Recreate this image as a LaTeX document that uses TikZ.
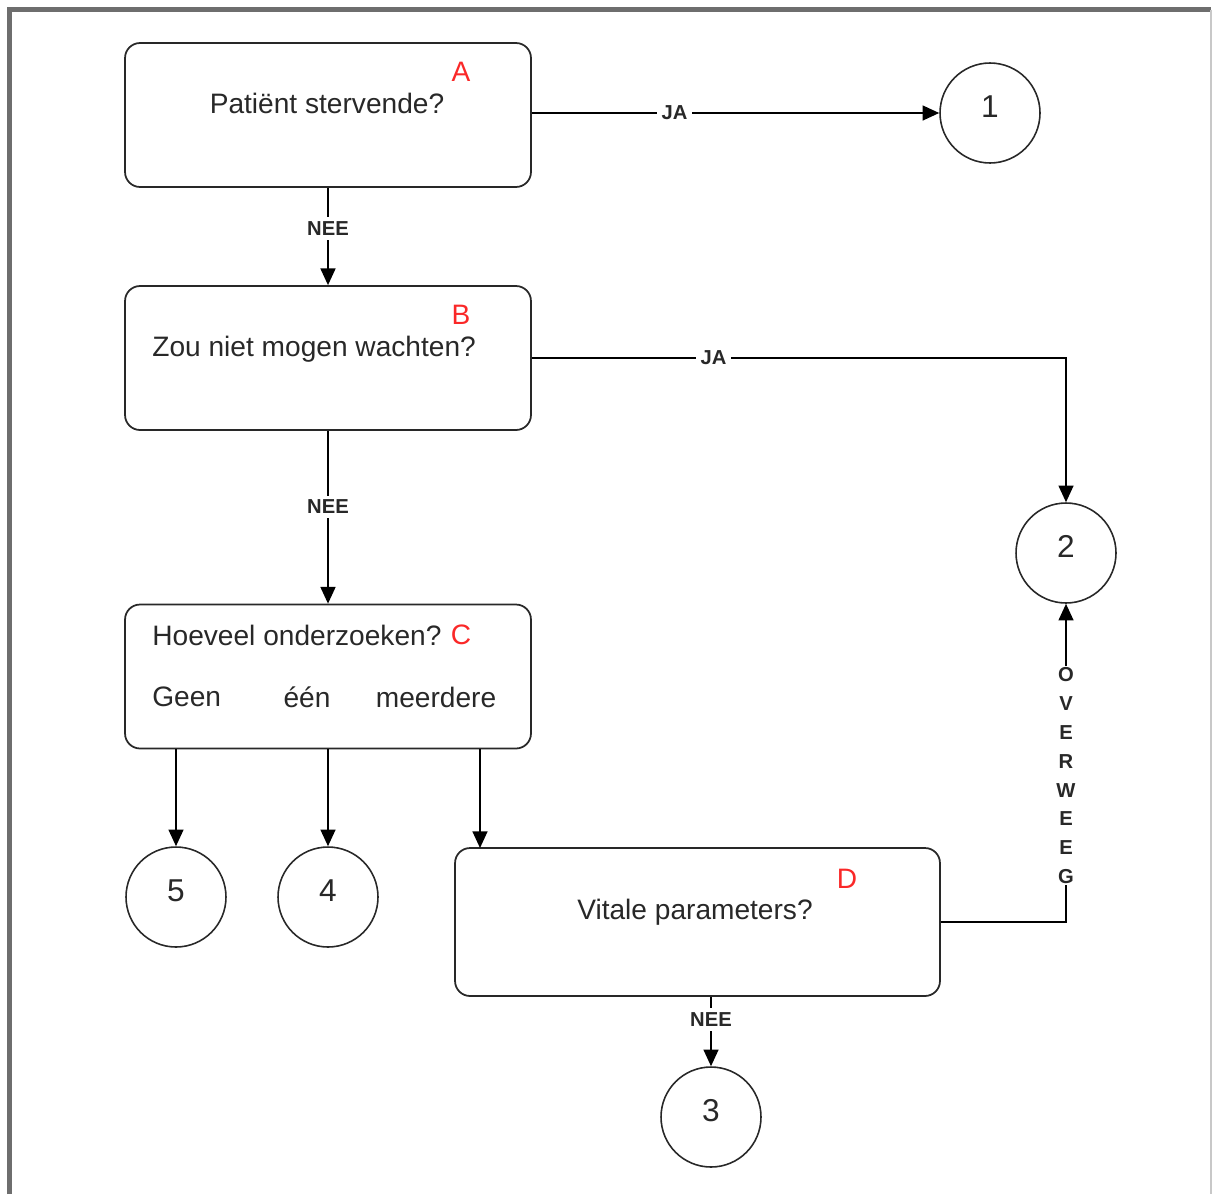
\documentclass[tikz,border=0pt]{standalone}
\usepackage{fontspec}
\setmainfont{Liberation Sans}
\usepackage{tikz}
\usetikzlibrary{arrows.meta,calc}
\definecolor{RandGrijs}{RGB}{110,110,110}
\definecolor{RandLicht}{RGB}{200,200,200}
\definecolor{LijnGrijs}{RGB}{40,40,40}
\definecolor{LetterRood}{RGB}{250,40,40}

\tikzset{
  vraag/.style={draw=LijnGrijs,line width=1pt,rounded corners=0.3cm,minimum width=8.12cm,minimum height=2.88cm,inner sep=0pt},
  eind/.style={draw=LijnGrijs,line width=0.9pt,circle,minimum size=2cm,inner sep=0pt,font=\fontsize{18}{20}\selectfont,text=LijnGrijs},
  tekst/.style={font=\fontsize{16}{19}\selectfont,text=LijnGrijs,inner sep=0pt},
  letter/.style={font=\fontsize{16}{19}\selectfont,text=LetterRood,inner sep=0pt},
  keuze/.style={font=\bfseries\fontsize{11.5}{13}\selectfont,text=LijnGrijs,fill=white,inner sep=2.5pt},
  pijl/.style={-{Triangle[length=9.5pt,width=8.5pt]},line width=1pt,draw=black}
}

\begin{document}
\begin{tikzpicture}[x=0.02cm,y=-0.02cm]
  \useasboundingbox (0,0) rectangle (1212,1194);
  \draw[RandGrijs,line width=2.4pt] (9.5,1194) -- (9.5,9.5) -- (1211,9.5);
  \draw[RandLicht,line width=0.8pt] (1211,9.5) -- (1211,1194);

  \node[vraag] (A) at (328,115) {};
  \node[vraag] (B) at (328,358) {};
  \node[vraag] (C) at (328,676.5) {};
  \node[vraag,minimum width=9.7cm,minimum height=2.96cm] (D) at (697.5,922) {};
  \coordinate (Din) at (480,848);

  \node[eind] (e1) at (990,113) {\raisebox{7pt}{1}};
  \node[eind] (e2) at (1066,553) {\raisebox{7pt}{2}};
  \node[eind] (e3) at (711,1117) {\raisebox{7pt}{3}};
  \node[eind] (e4) at (328,897) {\raisebox{7pt}{4}};
  \node[eind] (e5) at (176,897) {\raisebox{7pt}{5}};

  \node[tekst] (tA) at (327,103) {Patiënt stervende?};
  \node[letter] (lA) at (461,72) {A};
  \node[tekst,anchor=west] (tB) at (152,349) {Zou niet mogen wachten?};
  \node[letter] (lB) at (461,315) {B};
  \node[tekst,anchor=west] (tC) at (152,635) {Hoeveel onderzoeken?};
  \node[letter] (lC) at (461,635) {C};
  \node[tekst,anchor=west] (geen) at (152,697) {Geen};
  \node[tekst] (een) at (307,697) {één};
  \node[tekst] (meer) at (436,697) {meerdere};
  \node[tekst] (tD) at (695,912) {Vitale parameters?};
  \node[letter] (lD) at (847,879) {D};

  \draw[pijl] (A.east |- e1) -- (e1.west) node[keuze,pos=0.35] {JA};
  \draw[pijl] (A.south) -- (B.north) node[keuze,pos=0.42] {NEE};
  \draw[pijl] (B.east) -| (e2.north) node[keuze,pos=0.17] {JA};
  \draw[pijl] (B.south) -- (C.north) node[keuze,pos=0.44] {NEE};
  \draw[pijl] (C.south -| e5) -- (e5.north);
  \draw[pijl] (C.south -| e4) -- (e4.north);
  \draw[pijl] (C.south -| Din) -- (Din);
  \draw[pijl] (D.east) -| (e2.south)
    node[keuze,pos=0.73,align=center,font=\bfseries\fontsize{11.5}{16.4}\selectfont,inner sep=1pt] {O\\V\\E\\R\\W\\E\\E\\G};
  \draw[pijl] (D.south -| e3) -- (e3.north) node[keuze,pos=0.33] {NEE};
\end{tikzpicture}
\end{document}
